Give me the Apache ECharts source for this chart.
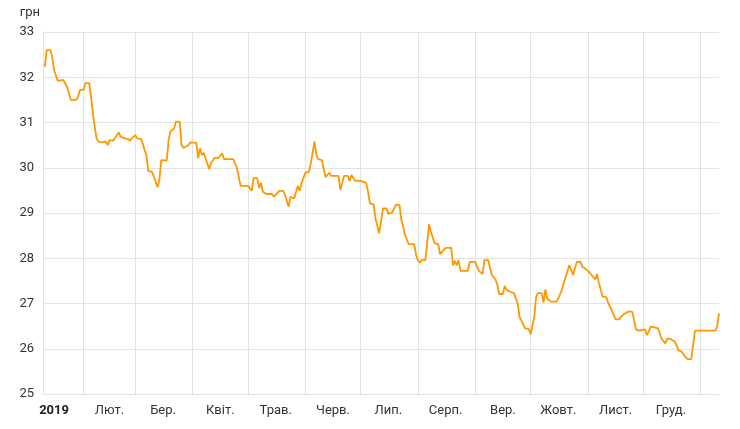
<!DOCTYPE html>
<html>
<head>
<meta charset="utf-8">
<script src="https://cdn.jsdelivr.net/npm/echarts@6/dist/echarts.min.js"></script>
<style>
html,body{margin:0;padding:0;background:#fff;}
#chart{width:740px;height:429px;}
</style>
</head>
<body>
<div id="chart"></div>
<script>
// Dates of readings and values (грн)
const dates = [
'2019-01-11','2019-01-12','2019-01-14','2019-01-15','2019-01-16','2019-01-17','2019-01-18','2019-01-19','2019-01-21','2019-01-23','2019-01-24','2019-01-25','2019-01-28','2019-01-29','2019-01-30',
'2019-02-01','2019-02-02','2019-02-04','2019-02-05','2019-02-06','2019-02-07','2019-02-08','2019-02-09','2019-02-11','2019-02-12','2019-02-13','2019-02-14','2019-02-15','2019-02-17','2019-02-18','2019-02-20','2019-02-21','2019-02-22','2019-02-23','2019-02-25','2019-02-26','2019-02-27',
'2019-03-01','2019-03-02','2019-03-04','2019-03-05','2019-03-06','2019-03-07','2019-03-08','2019-03-10','2019-03-11','2019-03-12','2019-03-13','2019-03-14','2019-03-15','2019-03-18','2019-03-19','2019-03-20','2019-03-21','2019-03-22','2019-03-23','2019-03-25','2019-03-26','2019-03-27','2019-03-29','2019-03-31',
'2019-04-03','2019-04-04','2019-04-05','2019-04-06','2019-04-07','2019-04-08','2019-04-10','2019-04-11','2019-04-13','2019-04-15','2019-04-17','2019-04-18','2019-04-19','2019-04-21','2019-04-23','2019-04-25','2019-04-27',
'2019-05-01','2019-05-03','2019-05-04','2019-05-06','2019-05-07','2019-05-08','2019-05-09','2019-05-11','2019-05-12','2019-05-14','2019-05-15','2019-05-16','2019-05-18','2019-05-20','2019-05-21','2019-05-23','2019-05-24','2019-05-26','2019-05-27','2019-05-28','2019-05-29','2019-05-30',
'2019-06-01','2019-06-03','2019-06-04','2019-06-06','2019-06-07','2019-06-08','2019-06-10','2019-06-11','2019-06-12','2019-06-13','2019-06-14','2019-06-15','2019-06-19','2019-06-20','2019-06-21','2019-06-22','2019-06-24','2019-06-25','2019-06-26','2019-06-27','2019-06-28',
'2019-07-01','2019-07-02','2019-07-04','2019-07-05','2019-07-06','2019-07-08','2019-07-09','2019-07-11','2019-07-12','2019-07-13','2019-07-15','2019-07-16','2019-07-18','2019-07-19','2019-07-20','2019-07-22','2019-07-23','2019-07-24','2019-07-25','2019-07-27','2019-07-30','2019-07-31',
'2019-08-01','2019-08-02','2019-08-03','2019-08-05','2019-08-06','2019-08-07','2019-08-08','2019-08-10','2019-08-12','2019-08-13','2019-08-14','2019-08-16','2019-08-19','2019-08-20','2019-08-21','2019-08-22','2019-08-23','2019-08-24','2019-08-28','2019-08-29',
'2019-09-01','2019-09-03','2019-09-04','2019-09-05','2019-09-06','2019-09-08','2019-09-10','2019-09-12','2019-09-13','2019-09-14','2019-09-16','2019-09-17','2019-09-18','2019-09-20','2019-09-22','2019-09-23','2019-09-24','2019-09-25','2019-09-26','2019-09-28','2019-09-30',
'2019-10-01','2019-10-02','2019-10-03','2019-10-04','2019-10-05','2019-10-07','2019-10-08','2019-10-09','2019-10-10','2019-10-12','2019-10-15','2019-10-16','2019-10-18','2019-10-19','2019-10-20','2019-10-22','2019-10-23','2019-10-24','2019-10-25','2019-10-26','2019-10-28','2019-10-29','2019-10-30','2019-10-31',
'2019-11-02','2019-11-03','2019-11-05','2019-11-06','2019-11-07','2019-11-08','2019-11-09','2019-11-11','2019-11-12','2019-11-13','2019-11-15','2019-11-16','2019-11-18','2019-11-19','2019-11-20','2019-11-21','2019-11-22','2019-11-23','2019-11-25','2019-11-26','2019-11-27','2019-11-29','2019-11-30',
'2019-12-02','2019-12-03','2019-12-04','2019-12-05','2019-12-07','2019-12-09','2019-12-10','2019-12-11','2019-12-12','2019-12-13','2019-12-14','2019-12-16','2019-12-17','2019-12-18','2019-12-19','2019-12-20','2019-12-22','2019-12-23','2019-12-24','2019-12-25','2019-12-27','2019-12-28','2019-12-29',
'2020-01-09','2020-01-10','2020-01-11'
];
const rates = [
32.23,32.60,32.60,32.45,32.16,32.16,31.92,31.94,31.94,31.79,31.65,31.50,31.50,31.57,31.72,
31.72,31.87,31.87,31.57,31.21,30.90,30.65,30.58,30.56,30.52,30.58,30.50,30.61,30.60,30.66,30.78,30.69,30.70,30.65,30.64,30.59,30.65,
30.72,30.65,30.64,30.54,30.39,30.28,29.93,29.91,29.91,29.69,29.57,29.73,30.17,30.16,30.61,30.80,30.83,30.87,31.02,31.02,30.50,30.44,30.48,30.56,
30.55,30.21,30.43,30.28,30.33,30.32,29.97,30.11,30.22,30.22,30.32,30.19,30.21,30.19,30.19,29.99,29.60,
29.60,29.49,29.77,29.77,29.55,29.67,29.47,29.42,29.44,29.42,29.36,29.38,29.49,29.49,29.40,29.14,29.36,29.32,29.32,29.60,29.49,29.66,
29.89,29.91,30.10,30.58,30.28,30.19,30.17,29.97,29.79,29.77,29.89,29.82,29.82,29.51,29.51,29.82,29.82,29.71,29.84,29.80,29.71,
29.71,29.74,29.66,29.47,29.21,29.19,28.88,28.55,28.81,29.10,29.10,28.98,29.01,28.99,29.18,29.18,28.85,28.70,28.51,28.31,28.31,28.07,
27.95,27.90,27.96,27.96,28.33,28.75,28.59,28.33,28.31,28.09,28.14,28.23,28.23,27.84,27.94,27.84,27.96,27.72,27.72,27.92,
27.92,27.72,27.68,27.65,27.96,27.96,27.63,27.53,27.41,27.21,27.21,27.39,27.30,27.26,27.23,27.23,27.00,26.71,26.62,26.45,26.44,
26.32,26.32,26.71,27.15,27.23,27.23,27.02,27.31,27.11,27.04,27.04,27.11,27.31,27.46,27.46,27.85,27.87,27.63,27.67,27.92,27.92,27.81,27.85,27.76,
27.68,27.67,27.53,27.65,27.45,27.30,27.15,27.14,27.02,27.02,26.75,26.65,26.65,26.71,26.70,26.78,26.75,26.82,26.82,26.64,26.43,26.40,26.43,
26.43,26.30,26.38,26.49,26.47,26.45,26.34,26.21,26.19,26.12,26.23,26.21,26.23,26.16,26.08,25.97,25.93,25.86,25.82,25.77,25.77,25.80,26.40,
26.40,26.49,26.78
];
// Axis settings
const axisStart = '2019-01-10';
const axisEnd = '2020-01-11';
const monthStarts = ['2019-02-01','2019-03-01','2019-04-01','2019-05-01','2019-06-01','2019-07-01','2019-08-01','2019-09-01','2019-10-01','2019-11-01','2019-12-01','2020-01-01'];
const labelDates = ['2019-01-16','2019-02-15','2019-03-16','2019-04-16','2019-05-16','2019-06-16','2019-07-16','2019-08-16','2019-09-16','2019-10-16','2019-11-16','2019-12-16'];
const monthLabels = ['2019','Лют.','Бер.','Квіт.','Трав.','Черв.','Лип.','Серп.','Вер.','Жовт.','Лист.','Груд.'];
const yMin = 25, yMax = 33, yStep = 1;

const toTs = s => { const p = s.split('-').map(Number); return Date.UTC(p[0], p[1]-1, p[2]); };
const seriesData = dates.map((d, i) => [toTs(d), rates[i]]);
const labelTs = labelDates.map(toTs);

const chart = echarts.init(document.getElementById('chart'), null, {renderer: 'canvas'});
const gridColor = '#e3e3e3';
chart.setOption({
  animation: false,
  textStyle: {fontFamily: 'Roboto'},
  grid: {left: 43, right: 21, top: 32, bottom: 35, containLabel: false},
  xAxis: {
    type: 'value',
    min: toTs(axisStart),
    max: toTs(axisEnd),
    axisLine: {show: true, lineStyle: {color: gridColor, width: 1}},
    axisTick: {show: false, customValues: monthStarts.map(toTs)},
    splitLine: {show: true, lineStyle: {color: gridColor, width: 1}},
    axisLabel: {
      customValues: labelTs,
      margin: 10,
      fontSize: 13,
      color: '#333',
      fontFamily: 'Roboto',
      formatter: function (v) {
        let idx = -1;
        labelTs.forEach((t, i) => { if (Math.abs(t - v) < 3600000) idx = i; });
        const t = idx >= 0 ? monthLabels[idx] : '';
        return idx === 0 ? '{b|' + t + '}' : t;
      },
      rich: {b: {fontWeight: 'bold', fontSize: 13, color: '#222', fontFamily: 'Roboto'}}
    }
  },
  yAxis: {
    type: 'value',
    min: yMin,
    max: yMax,
    interval: yStep,
    name: 'грн',
    nameLocation: 'end',
    nameGap: 13,
    nameTextStyle: {color: '#333', fontSize: 13, fontFamily: 'Roboto', align: 'right', padding: [0, 3, 0, 0]},
    axisLine: {show: true, lineStyle: {color: gridColor}},
    axisTick: {show: false},
    splitLine: {show: true, lineStyle: {color: gridColor, width: 1}},
    axisLabel: {fontSize: 13, color: '#333', margin: 9, fontFamily: 'Roboto'}
  },
  series: [{
    type: 'line',
    data: seriesData,
    showSymbol: false,
    symbol: 'none',
    lineStyle: {color: '#FF9800', width: 1.8},
    itemStyle: {color: '#FF9800'}
  }]
});
</script>
</body>
</html>
